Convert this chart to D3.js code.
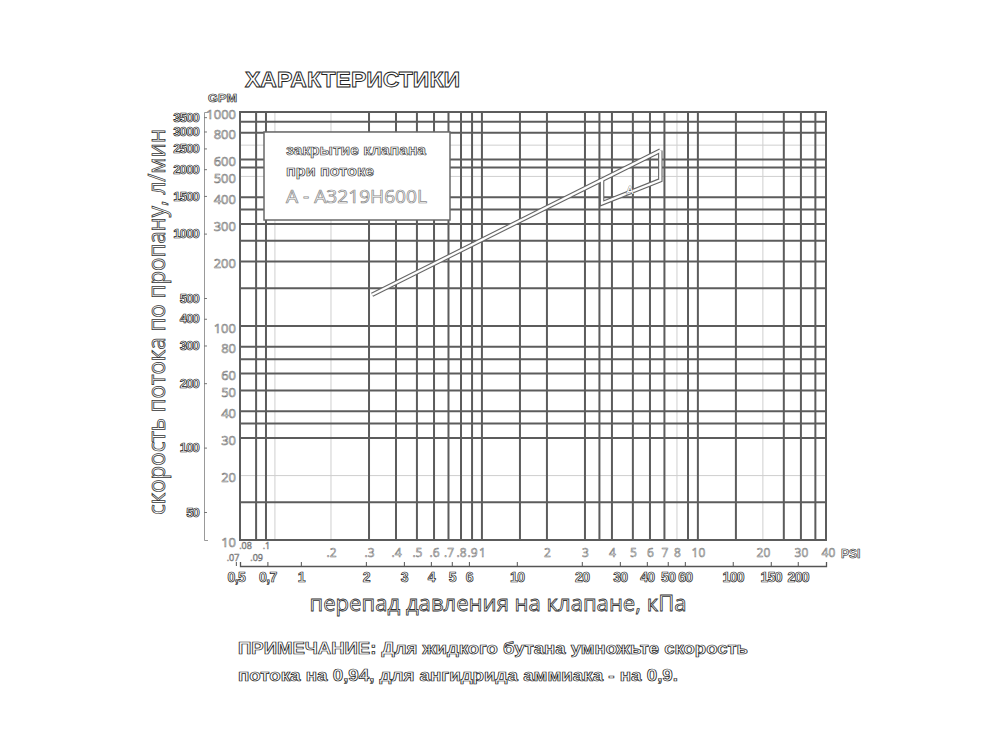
<!doctype html>
<html>
<head>
<meta charset="utf-8">
<title>Характеристики</title>
<script src="https://cdn.jsdelivr.net/npm/d3@7"></script>
<style>
  body { margin: 0; background: #fff; }
  svg text { font-family: "Liberation Sans Narrow", "Liberation Sans", sans-serif; }
</style>
</head>
<body>
<script>
// main flow curve: pressure drop (psi) -> propane flow (L/min)
const flowPsi = [0.31, 6.7];
const flowLpm = [140, 660];
// closing zone bracket "A"
const closePsi = [3.6, 3.6, 6.7, 6.7];
const closeLpm = [485, 374, 480, 660];

// grid of the printed log paper
const gridXDark = [0.09, 0.1, 0.3, 0.4, 0.5, 0.6, 0.7, 0.8, 0.9, 1, 1.5, 2, 3, 3.5, 4, 5, 6, 7, 9, 10, 15, 25, 30, 35];
const gridXLight = [0.11, 0.2, 8, 20];
const gridYDark = [1000, 900, 800, 600, 550, 400, 350, 300, 250, 200, 150, 100, 80, 70, 60, 50, 40, 35, 30, 15, 10];
const gridYLight = [700, 500, 20];

// tick labels
const psiTicks = [0.07, 0.08, 0.09, 0.1, 0.2, 0.3, 0.4, 0.5, 0.6, 0.7, 0.8, 0.9, 1, 2, 3, 4, 5, 6, 7, 8, 10, 20, 30, 40];
const psiRaised = [0.08, 0.1];   // printed a little higher so they don't collide
const kpaTicks = [0.5, 0.7, 1, 2, 3, 4, 5, 6, 10, 20, 30, 40, 50, 60, 100, 150, 200];
const lpmTicks = [10, 20, 30, 40, 50, 60, 80, 100, 200, 300, 400, 500, 600, 800, 1000];
const gpmTicks = [50, 100, 200, 300, 400, 500, 1000, 1500, 2000, 2500, 3000, 3500];

const noteLines = [
  'ПРИМЕЧАНИЕ: Для жидкого бутана умножьте скорость',
  'потока на 0,94, для ангидрида аммиака - на 0,9.'
];

const width = 1000, height = 750;
const svg = d3.select('body').append('svg')
    .attr('width', width)
    .attr('height', height);

const x = d3.scaleLog().domain([0.0758, 39.2]).range([240, 826]);
const y = d3.scaleLog().domain([10, 1000]).range([540, 112]);
// second axes are the same paper in other units
const xKpa = d3.scaleLog().domain(x.domain().map(d => d * 6.895)).range(x.range());
const yGpm = d3.scaleLog().domain(y.domain().map(d => d * 3.7)).range(y.range());

// hollow look of the scanned lettering
function hollow(sel, stroke, sw) {
  sel.attr('fill', '#fff').attr('stroke', stroke || '#333').attr('stroke-width', sw || 0.7);
}

// grid
const grid = svg.append('g');
grid.selectAll('.vl').data(gridXLight).enter().append('line')
    .attr('x1', d => x(d)).attr('x2', d => x(d))
    .attr('y1', y(1000)).attr('y2', y(10))
    .attr('stroke', '#cfcfcf').attr('stroke-width', 1);
grid.selectAll('.hl').data(gridYLight).enter().append('line')
    .attr('x1', x.range()[0]).attr('x2', x.range()[1])
    .attr('y1', d => y(d)).attr('y2', d => y(d))
    .attr('stroke', '#cfcfcf').attr('stroke-width', 1);
grid.selectAll('.vd').data(gridXDark).enter().append('line')
    .attr('x1', d => x(d)).attr('x2', d => x(d))
    .attr('y1', y(1000)).attr('y2', y(10))
    .attr('stroke', '#5c5c5c').attr('stroke-width', 2);
grid.selectAll('.hd').data(gridYDark).enter().append('line')
    .attr('x1', x.range()[0] - 1).attr('x2', x.range()[1] + 1)
    .attr('y1', d => y(d)).attr('y2', d => y(d))
    .attr('stroke', '#5c5c5c').attr('stroke-width', 2);
grid.append('rect')
    .attr('x', x.range()[0]).attr('y', y(1000))
    .attr('width', x.range()[1] - x.range()[0])
    .attr('height', y(10) - y(1000))
    .attr('fill', 'none').attr('stroke', '#5c5c5c').attr('stroke-width', 2);

// legend box
const box = svg.append('g');
box.append('rect')
    .attr('x', 264).attr('y', 132).attr('width', 186).attr('height', 88)
    .attr('fill', '#fff').attr('stroke', '#6a6a6a').attr('stroke-width', 1.5);
box.append('text').attr('x', 286).attr('y', 155)
    .attr('font-size', 14).attr('font-weight', 'bold')
    .attr('textLength', 140).attr('lengthAdjust', 'spacingAndGlyphs')
    .text('закрытие клапана').call(hollow, '#333', 0.6);
box.append('text').attr('x', 286).attr('y', 176)
    .attr('font-size', 14).attr('font-weight', 'bold')
    .attr('textLength', 88).attr('lengthAdjust', 'spacingAndGlyphs')
    .text('при потоке').call(hollow, '#333', 0.6);
box.append('text').attr('x', 286).attr('y', 203)
    .attr('font-size', 18)
    .style('font-family', 'Open Sans, sans-serif')
    .attr('textLength', 141).attr('lengthAdjust', 'spacingAndGlyphs')
    .text('A - A3219H600L').call(hollow, '#8a8a8a', 0.7);

// flow line (drawn as a double stroke like the print)
const line = d3.line().x(d => x(d[0])).y(d => y(d[1]));
const flowPts = flowPsi.map((p, i) => [p, flowLpm[i]]);
const closePts = closePsi.map((p, i) => [p, closeLpm[i]]);
const curves = svg.append('g').attr('fill', 'none');
[flowPts, closePts].forEach(pts => {
  curves.append('path').attr('d', line(pts))
      .attr('stroke', '#666').attr('stroke-width', 4.5).attr('stroke-linejoin', 'miter');
});
[flowPts, closePts].forEach(pts => {
  curves.append('path').attr('d', line(pts))
      .attr('stroke', '#fff').attr('stroke-width', 2.3).attr('stroke-linejoin', 'miter');
});
svg.append('text')
    .attr('x', x(4.84)).attr('y', y(430) + 4)
    .attr('text-anchor', 'middle').attr('font-size', 11)
    .attr('paint-order', 'stroke')
    .text('A').call(hollow, '#444', 0.6);

// L/min axis
const yAxis = svg.append('g')
    .attr('transform', `translate(${x.range()[0]},2)`)
    .call(d3.axisLeft(y).tickValues(lpmTicks).tickFormat(d3.format('d')).tickSize(0).tickPadding(4));
yAxis.select('.domain').remove();
yAxis.selectAll('text')
    .attr('font-size', 13)
    .style('font-family', 'Open Sans, sans-serif')
    .call(hollow, '#777', 0.6);

// second vertical scale (GPM)
const gAxis = svg.append('g')
    .attr('transform', 'translate(204,0)')
    .call(d3.axisLeft(yGpm).tickValues(gpmTicks).tickFormat(d3.format('d'))
      .tickSizeInner(-3).tickSizeOuter(-4).tickPadding(5));
gAxis.select('.domain').attr('stroke', '#999');
gAxis.selectAll('.tick line').attr('stroke', '#777');
gAxis.selectAll('text')
    .attr('font-size', 13).attr('font-weight', 'bold')
    .attr('letter-spacing', -0.8)
    .call(hollow, '#222', 0.7);
svg.append('text').attr('x', 208).attr('y', 102)
    .attr('font-size', 11).attr('font-weight', 'bold')
    .attr('textLength', 29).attr('lengthAdjust', 'spacingAndGlyphs')
    .text('GPM').call(hollow, '#222', 0.6);

// psi labels
const psiAxis = svg.append('g')
    .attr('transform', `translate(0,${y(10)})`)
    .call(d3.axisBottom(x).tickValues(psiTicks)
      .tickFormat(d => d < 1 ? String(d).replace(/^0/, '') : String(d))
      .tickSize(0).tickPadding(8));
psiAxis.select('.domain').remove();
psiAxis.selectAll('text')
    .attr('font-size', 12)
    .style('font-family', 'Open Sans, sans-serif')
    .call(hollow, '#777', 0.55);
// the crowded low end: small type, staggered
psiAxis.selectAll('.tick').filter(d => d < 0.11)
    .select('text')
    .attr('font-size', 9)
    .attr('dy', 0)
    .attr('y', d => psiRaised.includes(d) ? 9 : 21);
svg.append('text').attr('x', 841).attr('y', 558)
    .attr('font-size', 12).attr('font-weight', 'bold')
    .text('PSI').call(hollow, '#222', 0.6);

// kPa axis
const kAxis = svg.append('g')
    .attr('transform', 'translate(0,566)')
    .call(d3.axisBottom(xKpa).tickValues(kpaTicks)
      .tickFormat(d => String(d).replace('.', ','))
      .tickSizeInner(-4).tickSizeOuter(-4).tickPadding(6));
kAxis.select('.domain').attr('stroke', '#555').attr('stroke-width', 1.3);
kAxis.selectAll('.tick line').attr('stroke', '#555');
kAxis.selectAll('text')
    .attr('font-size', 14).attr('font-weight', 'bold')
    .attr('letter-spacing', -0.6)
    .call(hollow, '#222', 0.7);

// titles
svg.append('text').attr('x', 245).attr('y', 87)
    .attr('font-size', 22).attr('font-weight', 'bold')
    .attr('textLength', 215).attr('lengthAdjust', 'spacingAndGlyphs')
    .text('ХАРАКТЕРИСТИКИ').call(hollow, '#222', 0.9);

svg.append('text')
    .attr('transform', 'translate(165,322) rotate(-90)')
    .attr('text-anchor', 'middle')
    .attr('font-size', 24)
    .style('font-family', 'Open Sans, sans-serif')
    .attr('textLength', 386).attr('lengthAdjust', 'spacingAndGlyphs')
    .text('скорость потока по пропану, л/мин').call(hollow, '#333', 0.8);

svg.append('text')
    .attr('x', 498).attr('y', 611)
    .attr('text-anchor', 'middle')
    .attr('font-size', 22)
    .style('font-family', 'Open Sans, sans-serif')
    .attr('textLength', 377).attr('lengthAdjust', 'spacingAndGlyphs')
    .text('перепад давления на клапане, кПа').call(hollow, '#333', 0.8);

// note
const noteWidths = [510, 440];
svg.selectAll('.note').data(noteLines).enter().append('text')
    .attr('x', 238).attr('y', (d, i) => 654 + i * 27)
    .attr('font-size', 16).attr('font-weight', 'bold')
    .attr('textLength', (d, i) => noteWidths[i]).attr('lengthAdjust', 'spacingAndGlyphs')
    .text(d => d).call(hollow, '#222', 0.7);
</script>
</body>
</html>
